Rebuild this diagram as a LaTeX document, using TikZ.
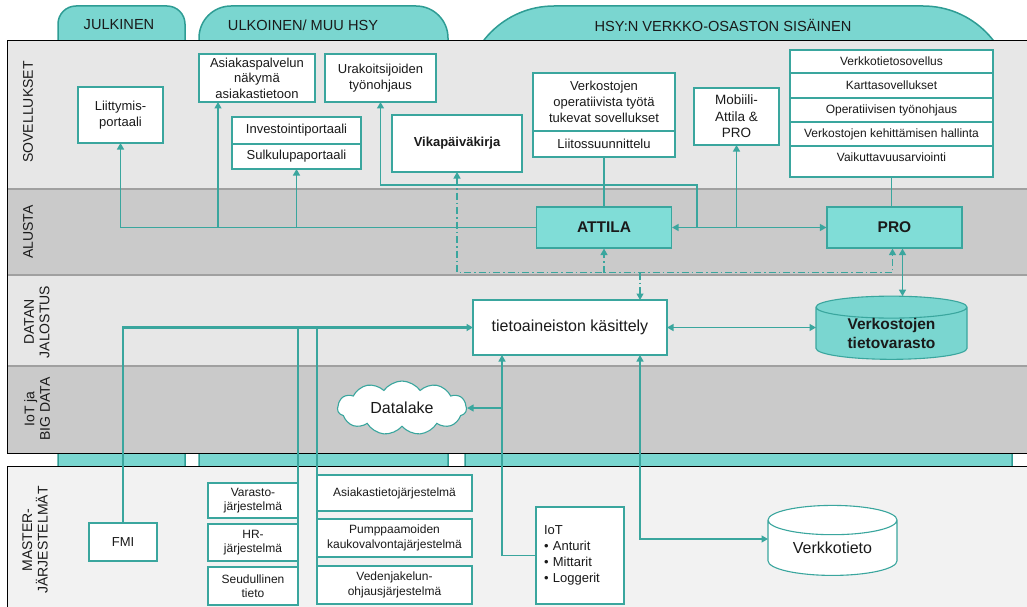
\documentclass[tikz,border=0pt]{standalone}
\usepackage{fontspec}
\setmainfont{Liberation Sans}
\usepackage{tikz}
\usetikzlibrary{positioning,shapes.geometric,shapes.symbols,arrows.meta}
\definecolor{tealline}{HTML}{3AA69E}
\definecolor{tabline}{HTML}{2E9C94}
\definecolor{tealfill}{HTML}{7AD6D0}
\definecolor{corefill}{HTML}{80DDD7}
\definecolor{bandlight}{HTML}{E7E7E7}
\definecolor{banddark}{HTML}{CACACA}
\definecolor{masterbg}{HTML}{F2F2F2}
\definecolor{sepgray}{HTML}{A0A0A0}
\definecolor{inkdark}{HTML}{1A1A1A}
\tikzset{
  appbox/.style={draw=tealline, fill=white, line width=1.1pt, align=center, text=inkdark,
    inner sep=1pt, outer sep=0pt, font=\fontsize{13}{15.6}\selectfont},
  listrow/.style={appbox, minimum width=203pt, font=\fontsize{12}{14}\selectfont},
  masterbox/.style={appbox, font=\fontsize{12}{14.5}\selectfont},
  corebox/.style={draw=tealline, fill=corefill, line width=1.1pt, text=inkdark,
    font=\bfseries\fontsize{15.5}{18}\selectfont, minimum width=135pt, minimum height=41pt},
  lanetext/.style={rotate=90, align=center, text=inkdark, font=\fontsize{14}{15.5}\selectfont},
  tabshape/.style={draw=tabline, fill=tealfill, line width=1.5pt},
  tabtext/.style={text=inkdark, font=\fontsize{14.6}{17}\selectfont},
  sepline/.style={draw=sepgray, line width=1.6pt},
  link/.style={draw=tealline, line width=1.3pt, >={Triangle[length=6.5pt,width=7pt]}},
  hint/.style={link, dash pattern=on 7pt off 3pt on 1.5pt off 3pt},
  store/.style={cylinder, shape border rotate=90, draw=tealline, line width=1.1pt, text=inkdark,
    align=center, inner sep=0pt, outer sep=0pt}
}

\begin{document}
\begin{tikzpicture}[x=1pt,y=-1pt]
\useasboundingbox (0,0) rectangle (1027,607);
\clip (0,0) rectangle (1027,607);

\draw[tabshape, rounded corners=18pt] (58,475) -- (58,6) -- (185,6) -- (185,475);
\draw[tabshape, rounded corners=32pt] (199,475) -- (199,6) -- (448,6) -- (448,475);
\draw[tabshape, rounded corners=89pt] (465,475) -- (465,6) -- (1012,6) -- (1012,475);
\node[tabtext] (pub) at (119,25) {JULKINEN};
\node[tabtext] (ext) at (303,25) {ULKOINEN/ MUU HSY};
\node[tabtext] (int) at (723,25) {HSY:N VERKKO-OSASTON SISÄINEN};

\fill[bandlight] (7,40) rectangle (1032,189);
\fill[banddark] (7,189) rectangle (1032,275);
\fill[bandlight] (7,275) rectangle (1032,366);
\fill[banddark] (7,366) rectangle (1032,453);
\draw[sepline] (7,189) -- (1032,189);
\draw[sepline] (7,275) -- (1032,275);
\draw[sepline] (7,366) -- (1032,366);
\draw[black, line width=0.9pt] (7,40) rectangle (1032,453);
\filldraw[fill=masterbg, draw=black, line width=0.9pt] (7,466) rectangle (1032,620);

\node[lanetext] (l1) at (28,112) {SOVELLUKSET};
\node[lanetext] (l2) at (28,232) {ALUSTA};
\node[lanetext] (l3) at (37,322) {DATAN\\JALOSTUS};
\node[lanetext] (l4) at (37,409) {IoT ja\\BIG DATA};
\node[lanetext] (l5) at (35,540) {MASTER-\\JÄRJESTELMÄT};

\node[appbox, minimum width=85pt, minimum height=56pt] (liitt) at (120.5,115) {Liittymis-\\portaali};
\node[appbox, minimum width=116pt, minimum height=48pt] (asiak) at (257,78) {Asiakaspalvelun\\näkymä\\asiakastietoon};
\node[appbox, minimum width=111pt, minimum height=48pt] (urak) at (380.5,78) {Urakoitsijoiden\\työnohjaus};
\node[appbox, minimum width=129pt, minimum height=27pt] (invest) at (296.5,130.5) {Investointiportaali};
\node[appbox, minimum width=129pt, minimum height=25pt, below=0pt of invest] (sulku) {Sulkulupaportaali};
\node[appbox, minimum width=130pt, minimum height=57pt, font=\bfseries\fontsize{13}{15.6}\selectfont] (vika) at (457,143.5) {Vikapäiväkirja};
\node[appbox, minimum width=142pt, minimum height=58pt, font=\fontsize{13}{16}\selectfont] (oper) at (604,102) {Verkostojen\\operatiivista työtä\\tukevat sovellukset};
\node[appbox, minimum width=142pt, minimum height=26pt, below=0pt of oper] (liitos) {Liitossuunnittelu};
\node[appbox, minimum width=85pt, minimum height=57pt, font=\fontsize{13.5}{16.5}\selectfont] (mobi) at (736.5,116.5) {Mobiili-\\Attila \&\\PRO};

\node[listrow, minimum height=23pt] (r1) at (891.5,61.5) {Verkkotietosovellus};
\node[listrow, minimum height=25pt, below=0pt of r1] (r2) {Karttasovellukset};
\node[listrow, minimum height=24pt, below=0pt of r2] (r3) {Operatiivisen työnohjaus};
\node[listrow, minimum height=24pt, below=0pt of r3] (r4) {Verkostojen kehittämisen hallinta};
\node[listrow, text height=12pt, text depth=13pt, inner ysep=3pt, below=0pt of r4] (r5) {Vaikuttavuusarviointi};

\node[corebox] (attila) at (604,227.5) {ATTILA};
\node[corebox] (pro) at (894.5,227.5) {PRO};

\node[appbox, minimum width=194pt, minimum height=55pt, font=\fontsize{16}{19}\selectfont] (tieto) at (570,327.5) {tietoaineiston käsittely};
\node[store, fill=tealfill, aspect=0.25, minimum width=151pt, minimum height=60pt, font=\bfseries\fontsize{15.5}{18.3}\selectfont] (varasto) at (891.5,333.5) {Verkostojen\\tietovarasto};

\node[cloud, cloud puffs=11, cloud puff arc=110, aspect=2.4, draw=tealline, fill=white, line width=1.1pt,
  minimum width=129pt, minimum height=53pt, text=inkdark, font=\fontsize{16}{19}\selectfont] (lake) at (402,408) {Datalake};

\node[masterbox, minimum width=68pt, minimum height=38pt, font=\fontsize{13}{15}\selectfont] (fmi) at (123,542) {FMI};
\node[masterbox, minimum width=90pt, minimum height=35pt] (varjar) at (253,500.5) {Varasto-\\järjestelmä};
\node[masterbox, minimum width=90pt, minimum height=37pt] (hr) at (253,542.5) {HR-\\järjestelmä};
\node[masterbox, minimum width=90pt, minimum height=38pt] (seud) at (253,586) {Seudullinen\\tieto};
\node[masterbox, minimum width=155pt, minimum height=36pt] (asjar) at (394.5,493) {Asiakastietojärjestelmä};
\node[masterbox, minimum width=155pt, minimum height=38pt] (pump) at (394.5,538) {Pumppaamoiden\\kaukovalvontajärjestelmä};
\node[masterbox, minimum width=155pt, minimum height=38pt] (veden) at (394.5,585) {Vedenjakelun-\\ohjausjärjestelmä};
\node[appbox, minimum width=88pt, minimum height=97pt, text width=72pt, align=left, font=\fontsize{13}{16}\selectfont] (iot) at (580,555.5) {IoT\\\textbullet\ Anturit\\\textbullet\ Mittarit\\\textbullet\ Loggerit};
\node[store, fill=white, aspect=0.37, minimum width=129pt, minimum height=70pt, font=\fontsize{16}{19}\selectfont] (verkko) at (832.5,548) {Verkkotieto};

\coordinate (asiakin) at ([xshift=19pt]asiak.south west);
\coordinate (prodd) at ([xshift=-2pt]pro.south);
\coordinate (prost) at ([xshift=8pt]pro.south);
\coordinate (ddline) at ([yshift=-24pt]prodd);
\coordinate (tietoin) at ([xshift=70pt]tieto.north);
\coordinate (tietoR) at ([xshift=70pt]tieto.south);
\coordinate (tietoL) at ([xshift=29pt]tieto.south west);

\draw[link,->] (attila.west) -| (liitt.south);
\draw[link,->] (asiakin |- attila.west) -- (asiakin);
\draw[link,->] (sulku.south |- attila.west) -- (sulku.south);
\draw[link,->] ([xshift=25pt]attila.east) |- ([yshift=-83pt]urak.south) -- (urak.south);
\draw[link,<->] (attila.east) -- (pro.west);
\draw[link,->] (mobi.south |- attila.east) -- (mobi.south);
\draw[link] (liitos.south) -- (attila.north);
\draw[link] (r5.south) -- (r5.south |- pro.north);

\draw[hint,<->] (vika.south) |- (ddline) -- (prodd);
\draw[hint,->] (attila.south |- ddline) -- (attila.south);
\draw[hint,->] (tietoin |- ddline) -- (tietoin);
\draw[link,<->] (prost) -- (prost |- varasto.north);
\draw[link,<->] (tieto.east) -- (tieto.east -| varasto.west);

\draw[link,->,line width=2.4pt] (fmi.north) |- (tieto.west);
\draw[link] (varjar.north east |- tieto.west) -- (seud.south east);
\draw[link] (asjar.north west |- tieto.west) -- (veden.south west);
\draw[link,->] (iot.west) -| (tietoL);
\draw[link,->] (tietoL |- lake.east) -- (lake.east);
\draw[link,<->] (tietoR) |- ([yshift=9pt]verkko.west);
\end{tikzpicture}
\end{document}
